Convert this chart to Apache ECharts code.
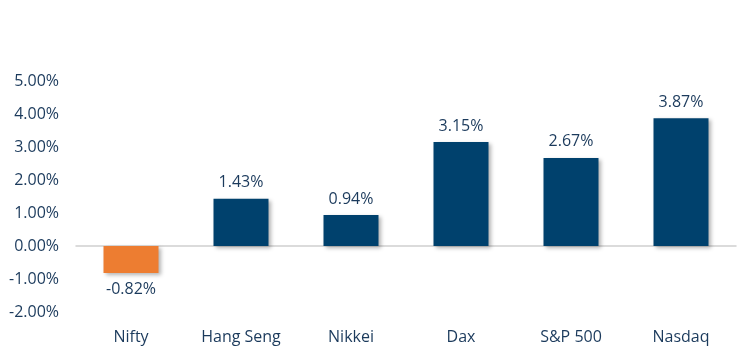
<!DOCTYPE html>
<html><head><meta charset="utf-8">
<script src="https://cdn.jsdelivr.net/npm/echarts@6/dist/echarts.min.js"></script>
<style>html,body{margin:0;padding:0;background:#fff}#c{width:755px;height:353px}</style>
</head><body><div id="c"></div>
<script>
var categories = ["Nifty", "Hang Seng", "Nikkei", "Dax", "S&P 500", "Nasdaq"];
var values = [-0.82, 1.43, 0.94, 3.15, 2.67, 3.87];
var yTicks = [-2, -1, 0, 1, 2, 3, 4, 5];

var textColor = "#1B3A5C";
var chart = echarts.init(document.getElementById('c'));
chart.setOption({
  animation: false,
  grid: {left: 76, right: 19, top: 81, bottom: 41, containLabel: false, outerBoundsMode: 'none'},
  xAxis: {
    type: 'category', data: categories,
    axisLine: {onZero: true, lineStyle: {color: '#D0D0D0', width: 1.5}},
    axisTick: {show: false},
    axisLabel: {color: textColor, fontSize: 16, fontFamily: 'Open Sans', margin: 17}
  },
  yAxis: {
    type: 'value', min: yTicks[0], max: yTicks[yTicks.length-1], interval: 1,
    splitLine: {show: false}, axisLine: {show: false}, axisTick: {show: false},
    axisLabel: {color: textColor, fontSize: 16, fontFamily: 'Open Sans', margin: 17,
      formatter: function(v){return v.toFixed(2) + '%';}}
  },
  series: [{
    type: 'bar', barWidth: 55,
    data: values.map(function(v){
      return {value: v,
        itemStyle: {color: v < 0 ? '#ED7D31' : '#00416D'},
        label: {position: v < 0 ? 'bottom' : 'top'}};
    }),
    itemStyle: {shadowBlur: 4, shadowOffsetX: 2, shadowOffsetY: 2, shadowColor: 'rgba(0,0,0,0.3)'},
    label: {show: true, color: textColor, fontSize: 16, fontFamily: 'Open Sans', distance: 8,
      formatter: function(p){return p.value.toFixed(2) + '%';}}
  }]
});
</script></body></html>
